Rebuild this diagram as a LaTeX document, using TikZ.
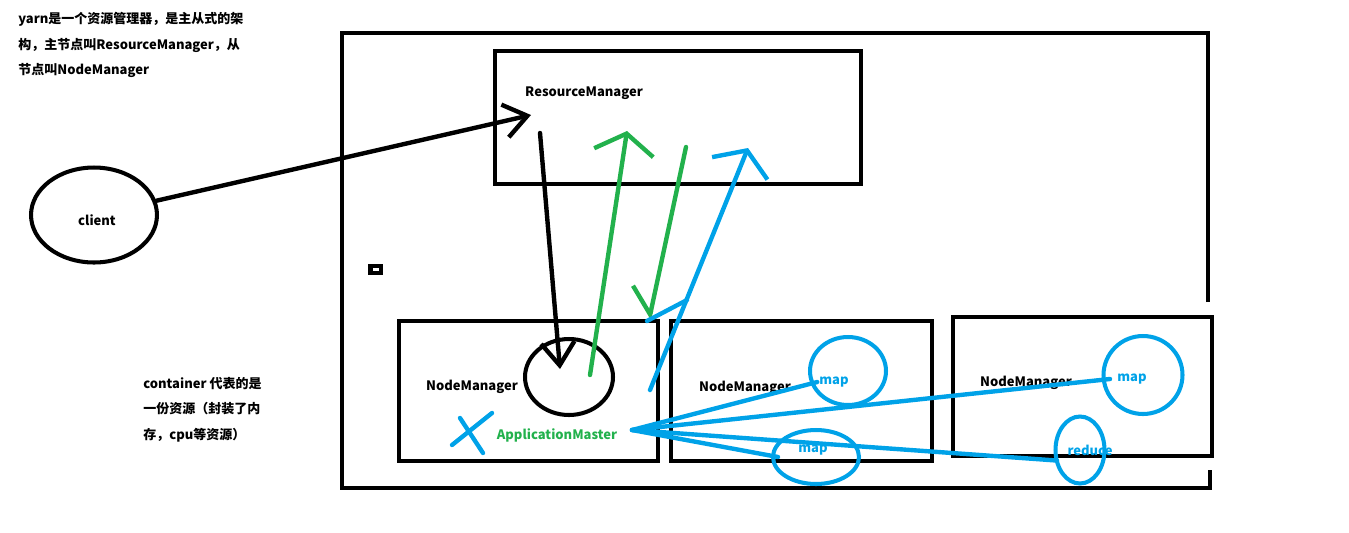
\documentclass[tikz,border=0pt]{standalone}
\usepackage{fontspec}
\setmainfont{Noto Sans CJK SC}
\usetikzlibrary{arrows.meta,shapes.geometric}
\definecolor{pblue}{HTML}{00A2E8}
\definecolor{pgreen}{HTML}{22B14C}

\begin{document}
\begin{tikzpicture}[x=0.02cm, y=-0.02cm,
  box/.style={draw, line width=2.6pt, inner sep=0pt},
  ring/.style={draw, ellipse, line width=2.3pt, inner sep=0pt},
  lbl/.style={font=\fontsize{7.4}{14.5}\selectfont\bfseries, inner sep=0pt},
  pen/.style={line width=2.5pt, line cap=round},
  arr/.style={-{Straight Barb[length=13pt,width=19pt]}},
  warr/.style={-{Straight Barb[length=11pt,width=34pt]}},
  harr/.style={-{Straight Barb[length=14pt,width=26pt,right]}}
]
\useasboundingbox (0,0) rectangle (1349,532);

\node[lbl, anchor=north west, align=left] (intro) at (18,12)
  {yarn是一个资源管理器，是主从式的架\\构，主节点叫ResourceManager，从\\节点叫NodeManager};
\node[lbl, anchor=north west, align=left] (note) at (143,377)
  {container 代表的是\\一份资源（封装了内\\存，cpu等资源）};

\draw[line width=2.8pt] (1208,302) -- (1208,33) -- (342,33) -- (342,488)
  -- (1210,488) -- (1210,470);
\fill (368,264) rectangle (383,275);
\fill[white] (373,268) rectangle (379,271);

\node[box, minimum width=7.32cm, minimum height=2.66cm] (rm) at (678,117.5) {};
\node[box, minimum width=5.18cm, minimum height=2.8cm] (nm1) at (528.5,391) {};
\node[box, minimum width=5.22cm, minimum height=2.8cm] (nm2) at (801.5,391) {};
\node[box, minimum width=5.18cm, minimum height=2.78cm] (nm3) at (1082.5,386.5) {};
\node[lbl] (rmlbl) at (584,93) {ResourceManager};
\node[lbl] (nm1lbl) at (472,387) {NodeManager};
\node[lbl] (nm2lbl) at (745,388) {NodeManager};
\node[lbl] (nm3lbl) at (1026,383) {NodeManager};

\node[ring, minimum width=2.52cm, minimum height=1.9cm] (client) at (94,215) {};
\node[lbl] (clientlbl) at (97,220) {client};
\node[ring, minimum width=1.76cm, minimum height=1.52cm] (cont) at (569,377) {};
\node[lbl, text=pgreen] (am) at (557,435) {ApplicationMaster};

\node[ring, pblue, minimum width=1.52cm, minimum height=1.36cm] (map1) at (848,371) {};
\node[ring, pblue, minimum width=1.58cm, minimum height=1.56cm] (map2) at (1143,375) {};
\node[ring, pblue, minimum width=1.72cm, minimum height=1.08cm] (map3) at (816,457) {};
\node[ring, pblue, minimum width=0.98cm, minimum height=1.34cm] (red) at (1080,450) {};
\node[lbl, text=pblue] (map1lbl) at (834,382) {map};
\node[lbl, text=pblue] (map2lbl) at (1132,379) {map};
\node[lbl, text=pblue] (map3lbl) at (813,450) {map};
\node[lbl, text=pblue] (redlbl) at (1090,450) {reduce};

\coordinate (rmIn) at (531,115);
\coordinate (rmOut) at (540,133);
\coordinate (contIn) at (560,369);
\coordinate (contUp) at (590,375);
\coordinate (rmG1) at (627,131);
\coordinate (rmG2) at (686,147);
\coordinate (nmG) at (649,320);
\coordinate (amUp) at (650,390);
\coordinate (rmB) at (748,148);
\coordinate (kink1) at (647,321);
\coordinate (kink2) at (687,300);
\coordinate (amR) at (632,430);

\draw[pen, arr] (client) -- (rmIn);
\draw[pen, arr] (rmOut) -- (contIn);
\draw[pen, pgreen, warr] (contUp) -- (rmG1);
\draw[pen, pgreen, harr] (rmG2) -- (nmG);
\draw[pen, pblue, warr] (amUp) -- (rmB);
\draw[pen, pblue] (kink1) -- (kink2);

\draw[pen, pblue] (460,418) -- (483,453);
\draw[pen, pblue] (492,413) -- (452,445);

\draw[pen, pblue] (amR) -- ([xshift=-1pt]map1lbl.west);
\draw[pen, pblue] (amR) -- ([xshift=-4pt]map2lbl.west);
\draw[pen, pblue] (amR) -- ([xshift=4pt]map3.west);
\draw[pen, pblue] (amR) -- ([xshift=2pt,yshift=-6pt]red.west);
\end{tikzpicture}
\end{document}
